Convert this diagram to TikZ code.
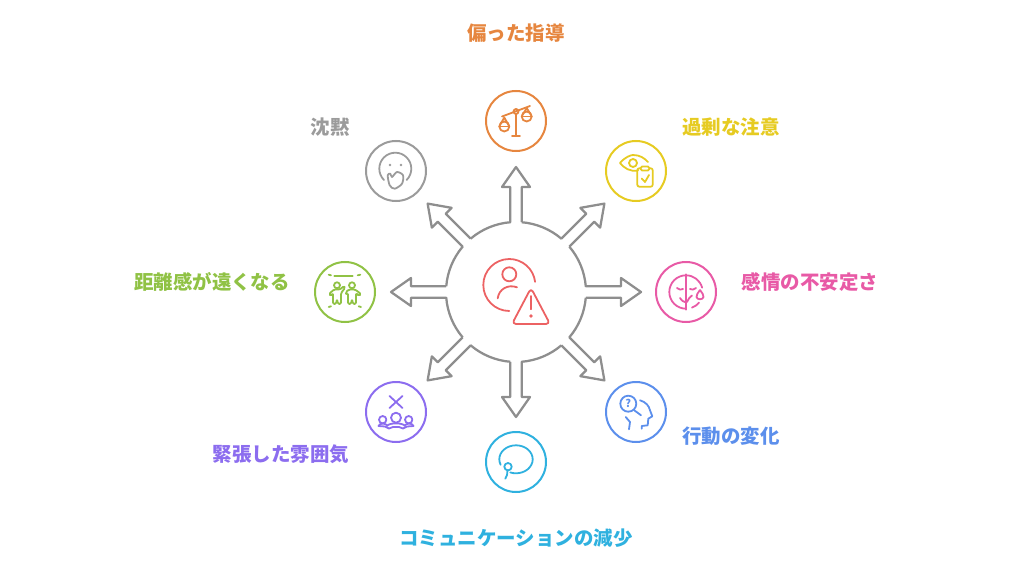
\documentclass[tikz,border=0pt]{standalone}
\usepackage{fontspec}
\setmainfont{Noto Sans CJK JP}
\usetikzlibrary{arrows,positioning}
\definecolor{orangec}{HTML}{E6863F}
\definecolor{yellowc}{HTML}{E6CB22}
\definecolor{pinkc}{HTML}{E85AA6}
\definecolor{bluec}{HTML}{5C8FEC}
\definecolor{cyanc}{HTML}{2FB1DF}
\definecolor{purplec}{HTML}{8C6DEF}
\definecolor{greenc}{HTML}{90C245}
\definecolor{grayc}{HTML}{9B9B9B}
\definecolor{redc}{HTML}{EC6263}
\definecolor{hubc}{HTML}{8E8E8E}
\tikzstyle{ring}=[circle,draw,line width=1.5pt,minimum size=45pt,inner sep=0pt]
\tikzstyle{lab}=[font=\fontsize{14.6pt}{16pt}\selectfont\bfseries,inner sep=0pt]
\tikzstyle{hubline}=[draw=hubc,line width=1.7pt,line join=round]
\tikzstyle{glyph}=[line width=1.35pt,line cap=round,line join=round]
\begin{document}
\begin{tikzpicture}[x=0.75pt,y=-0.75pt]
        \useasboundingbox (0,0) rectangle (1024,563);

        \node [inner sep=0pt,minimum size=105pt,circle] (hub) at (516,292) {};
        \foreach \ang in {0,45,...,315}
          \draw [hubline,shift={(516,292)},rotate=\ang] (-40.33:70) arc (-40.33:-4.67:70) -- (105,-5.7) -- (105,-14) -- (125,0) -- (105,14) -- (105,5.7) -- (4.67:70);

        \node [ring,draw=orangec] (scales) at (516,121) {};
        \node [ring,draw=yellowc] (eye) at (636,171) {};
        \node [ring,draw=pinkc] (mood) at (686,292) {};
        \node [ring,draw=bluec] (head) at (636,412) {};
        \node [ring,draw=cyanc] (bubble) at (516,462) {};
        \node [ring,draw=purplec] (crowd) at (396,412) {};
        \node [ring,draw=greenc] (pair) at (345,292) {};
        \node [ring,draw=grayc] (hush) at (396,171) {};

        \node [lab,text=orangec] (scalestxt) at (516,33) {偏った指導};
        \node [lab,text=yellowc] (eyetxt) at (731,127) {過剰な注意};
        \node [lab,text=pinkc] (moodtxt) at (810,282) {感情の不安定さ};
        \node [lab,text=bluec] (headtxt) at (731,436) {行動の変化};
        \node [lab,text=cyanc] (bubbletxt) at (516,538) {コミュニケーションの減少};
        \node [lab,text=purplec] (crowdtxt) at (281,454) {緊張した雰囲気};
        \node [lab,text=greenc] (pairtxt) at (212,282) {距離感が遠くなる};
        \node [lab,text=grayc] (hushtxt) at (330,127) {沈黙};

        \begin{scope}[glyph,draw=redc,shift={(516,292)}]
          \draw (-6.7,-7) ++(90:26) arc (90:353:26);
          \draw (-6.7,-17.7) circle (7);
          \draw (-18.3,6.3) .. controls (-17,-3) and (-8,-8) .. (1,-4.7);
          \draw [rounded corners=3pt] (15,-4) -- (34,32) -- (-4,32) -- cycle;
          \draw (15,4) -- (15,17.3);
          \fill [redc] (15,24) circle (1.8);
        \end{scope}

        \begin{scope}[glyph,draw=orangec,shift={(516,121)}]
          \draw (-14,-4.5) -- (14,-15);
          \draw (0,-7) -- (0,15);
          \draw (-4,15) -- (4,15);
          \draw (0,-9.5) circle (2.5);
          \draw (-11.7,5.5) circle (5);
          \draw (-16.7,5.5) -- (-6.7,5.5);
          \draw (-16,4) -- (-11.7,-3.5) -- (-7.5,4);
          \draw (10.7,-4.5) circle (5);
          \draw (5.7,-4.5) -- (15.7,-4.5);
          \draw (6.5,-6) -- (10.7,-13) -- (15,-6);
        \end{scope}

        \begin{scope}[glyph,draw=yellowc,shift={(636,171)}]
          \draw (2,-0.5) .. controls (-6,1) and (-12,-3) .. (-16,-8) .. controls (-11,-14) and (-5,-16) .. (-3,-16) .. controls (4,-16) and (8,-13) .. (12,-9);
          \draw (-3,-8) circle (4);
          \draw [rounded corners=1.5pt] (1.3,-2.7) rectangle (16.7,15.7);
          \draw [rounded corners=1pt,fill=white] (4.7,-4.5) rectangle (13.3,-0.5);
          \draw (5.7,7.5) -- (9,11) -- (13,4);
        \end{scope}

        \begin{scope}[glyph,draw=pinkc,shift={(686,292)}]
          \draw (0,16.7) arc (90:345:16.7);
          \draw (6,15.6) arc (70:40:16.7);
          \draw (0,-17.7) -- (0,17.7);
          \draw (-9,-4) .. controls (-7,-2) and (-5,-2) .. (-3,-3);
          \draw (4,-3) .. controls (6,-2) and (8,-2) .. (10,-4);
          \draw (-6,6) .. controls (-4,9) and (-2,10) .. (-1,10);
          \draw (1,10) .. controls (2,7) and (4,5) .. (6,3.5);
          \draw (14,-2) .. controls (16,1) and (18,3) .. (17.5,5) .. controls (17,8) and (11,8) .. (10.5,5) .. controls (10,3) and (12,1) .. (14,-2);
        \end{scope}

        \begin{scope}[glyph,draw=bluec,shift={(636,412)}]
          \draw (-7.7,-8.3) circle (8);
          \node [inner sep=0pt,text=bluec,font=\fontsize{8pt}{8pt}\selectfont\bfseries] (quest) at (-7.7,-8.3) {?};
          \draw (-1.7,-1.7) -- (5,3.3);
          \draw (4,-11.7) .. controls (10,-10) and (13,-6) .. (14,-1.7) -- (16.3,4.3) -- (12.3,6.7) -- (11.7,13.3) -- (5.7,14) -- (5.7,16.7);
          \draw (-10.3,5) -- (-6,10) -- (-7,17.3);
        \end{scope}

        \begin{scope}[glyph,draw=cyanc,shift={(516,462)}]
          \draw (0,-2.7) ++(157:16.7 and 14) arc (157:470:16.7 and 14);
          \draw (-8,4.7) circle (3.7);
          \draw (-8.5,8.4) .. controls (-8.5,12) and (-9,14) .. (-10.7,16.7);
        \end{scope}

        \begin{scope}[glyph,draw=purplec,shift={(396,412)}]
          \draw (-6.5,-16) -- (6.5,-4);
          \draw (6.5,-16) -- (-6.5,-4);
          \draw (0,5.7) circle (5);
          \draw (-13.3,7.7) circle (3.7);
          \draw (12.7,7.7) circle (3.7);
          \draw (-9,14) .. controls (-7,10.5) and (7,10.5) .. (9,14);
          \draw (-17.5,14) .. controls (-16,11) and (-12,11) .. (-9,13);
          \draw (17.5,14) .. controls (16,11) and (12,11) .. (9,13);
          \draw (-17.5,14) -- (-11,14.5) -- (-7,16.5) -- (-3,15) -- (0,15) -- (3,15) -- (7,16.5) -- (11,14.5) -- (17.5,14);
        \end{scope}

        \begin{scope}[glyph,draw=greenc,shift={(345,292)}]
          \draw (-10.7,-16) -- (7.7,-16);
          \draw (-16.3,-17.3) -- (-14,-16.7);
          \draw (12.7,-16.7) -- (15.3,-17.3);
          \draw (-16.3,15) -- (-14,14.3);
          \draw (13.7,14.3) -- (16,15);
          \draw (-8,-6.7) circle (3);
          \draw (7,-6.7) circle (3);
          \draw [rounded corners=1pt] (-16,2) -- (-11,-2.5) -- (-5,-2.5) -- (-1,-6) -- (0,-4) -- (-4,1) -- (-4,12) -- (-7,12) -- (-8,7) -- (-9,12) -- (-12,12) -- (-12,1) -- (-14,4) -- cycle;
          \draw [rounded corners=1pt] (1,0) -- (4,-2.5) -- (10,-2.5) -- (16,2) -- (14,4) -- (11,1) -- (11,12) -- (8,12) -- (7,7) -- (6,12) -- (3,12) -- (3,1) -- (1,3) -- cycle;
        \end{scope}

        \begin{scope}[glyph,draw=grayc,shift={(396,171)}]
          \draw (-0.7,-2.3) ++(135:16) arc (135:405:16);
          \fill [grayc] (-6,-6) circle (1.4);
          \fill [grayc] (5,-6) circle (1.4);
          \draw plot [smooth cycle] coordinates {(-8.3,4.3) (-5.7,2.7) (-4,6) (1,1) (7,4.3) (6,12.7) (-1.3,17.7) (-6.3,14.3)};
        \end{scope}
      \end{tikzpicture}
\end{document}
